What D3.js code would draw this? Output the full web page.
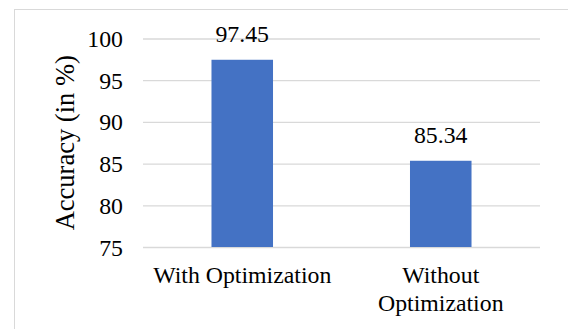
<!DOCTYPE html>
<html><head><meta charset="utf-8">
<script src="https://cdn.jsdelivr.net/npm/d3@7"></script>
<style>html,body{margin:0;padding:0;background:#fff;overflow:hidden} text{font-family:"Liberation Serif", serif;}</style>
</head><body>
<script>
const categories = [["With Optimization"], ["Without", "Optimization"]];
const values = [97.45, 85.34];
const yTicks = [75, 80, 85, 90, 95, 100];
const yTitle = "Accuracy (in %)";

(function () {
const W = 568, H = 329;
const svg = d3.select("body").append("svg").attr("width", W).attr("height", H);
const font = "Liberation Serif";
const fs = 23.8;

svg.append("rect").attr("x", 14.5).attr("y", 9.5).attr("width", W).attr("height", H)
  .attr("fill", "none").attr("stroke", "#d9d9d9").attr("stroke-width", 1);

const pl = 143, pr = 540, pt = 38.5, pb = 247;
const x = d3.scaleBand().domain(d3.range(values.length)).range([pl, pr]).paddingInner(0.69).paddingOuter(0.345);
const y = d3.scaleLinear().domain([75, 100]).range([pb, pt]);

const yAxis = svg.append("g").attr("transform", `translate(${pl},0)`)
  .call(d3.axisLeft(y).tickValues(yTicks).tickSize(-(pr - pl)).tickPadding(20).tickFormat(d3.format("d")));
yAxis.select(".domain").remove();
yAxis.selectAll(".tick line").attr("stroke", "#d9d9d9").attr("stroke-width", 1.3);
yAxis.selectAll(".tick text").attr("font-family", font).attr("font-size", fs).attr("fill", "#000").attr("dy", "0.34em");

svg.selectAll("rect.bar").data(values).join("rect").attr("class", "bar")
  .attr("x", (d, i) => x(i)).attr("width", x.bandwidth())
  .attr("y", d => y(d)).attr("height", d => y(75) - y(d))
  .attr("fill", "#4472C4");

svg.selectAll("text.lbl").data(values).join("text").attr("class", "lbl")
  .attr("x", (d, i) => x(i) + x.bandwidth() / 2).attr("y", d => y(d) - 18)
  .attr("text-anchor", "middle").attr("font-family", font).attr("font-size", fs).attr("fill", "#000")
  .text(d => d.toFixed(2));

categories.forEach((lines, i) => {
  const t = svg.append("text").attr("text-anchor", "middle").attr("font-family", font)
    .attr("font-size", fs).attr("fill", "#000");
  lines.forEach((ln, j) => {
    t.append("tspan").attr("x", x(i) + x.bandwidth() / 2).attr("y", 283 + j * 28).text(ln);
  });
});

svg.append("text").attr("transform", `translate(74,${(pt + pb) / 2}) rotate(-90)`)
  .attr("text-anchor", "middle").attr("font-family", font).attr("font-size", 26.5).attr("fill", "#000")
  .text(yTitle);
})();
</script>
</body></html>
